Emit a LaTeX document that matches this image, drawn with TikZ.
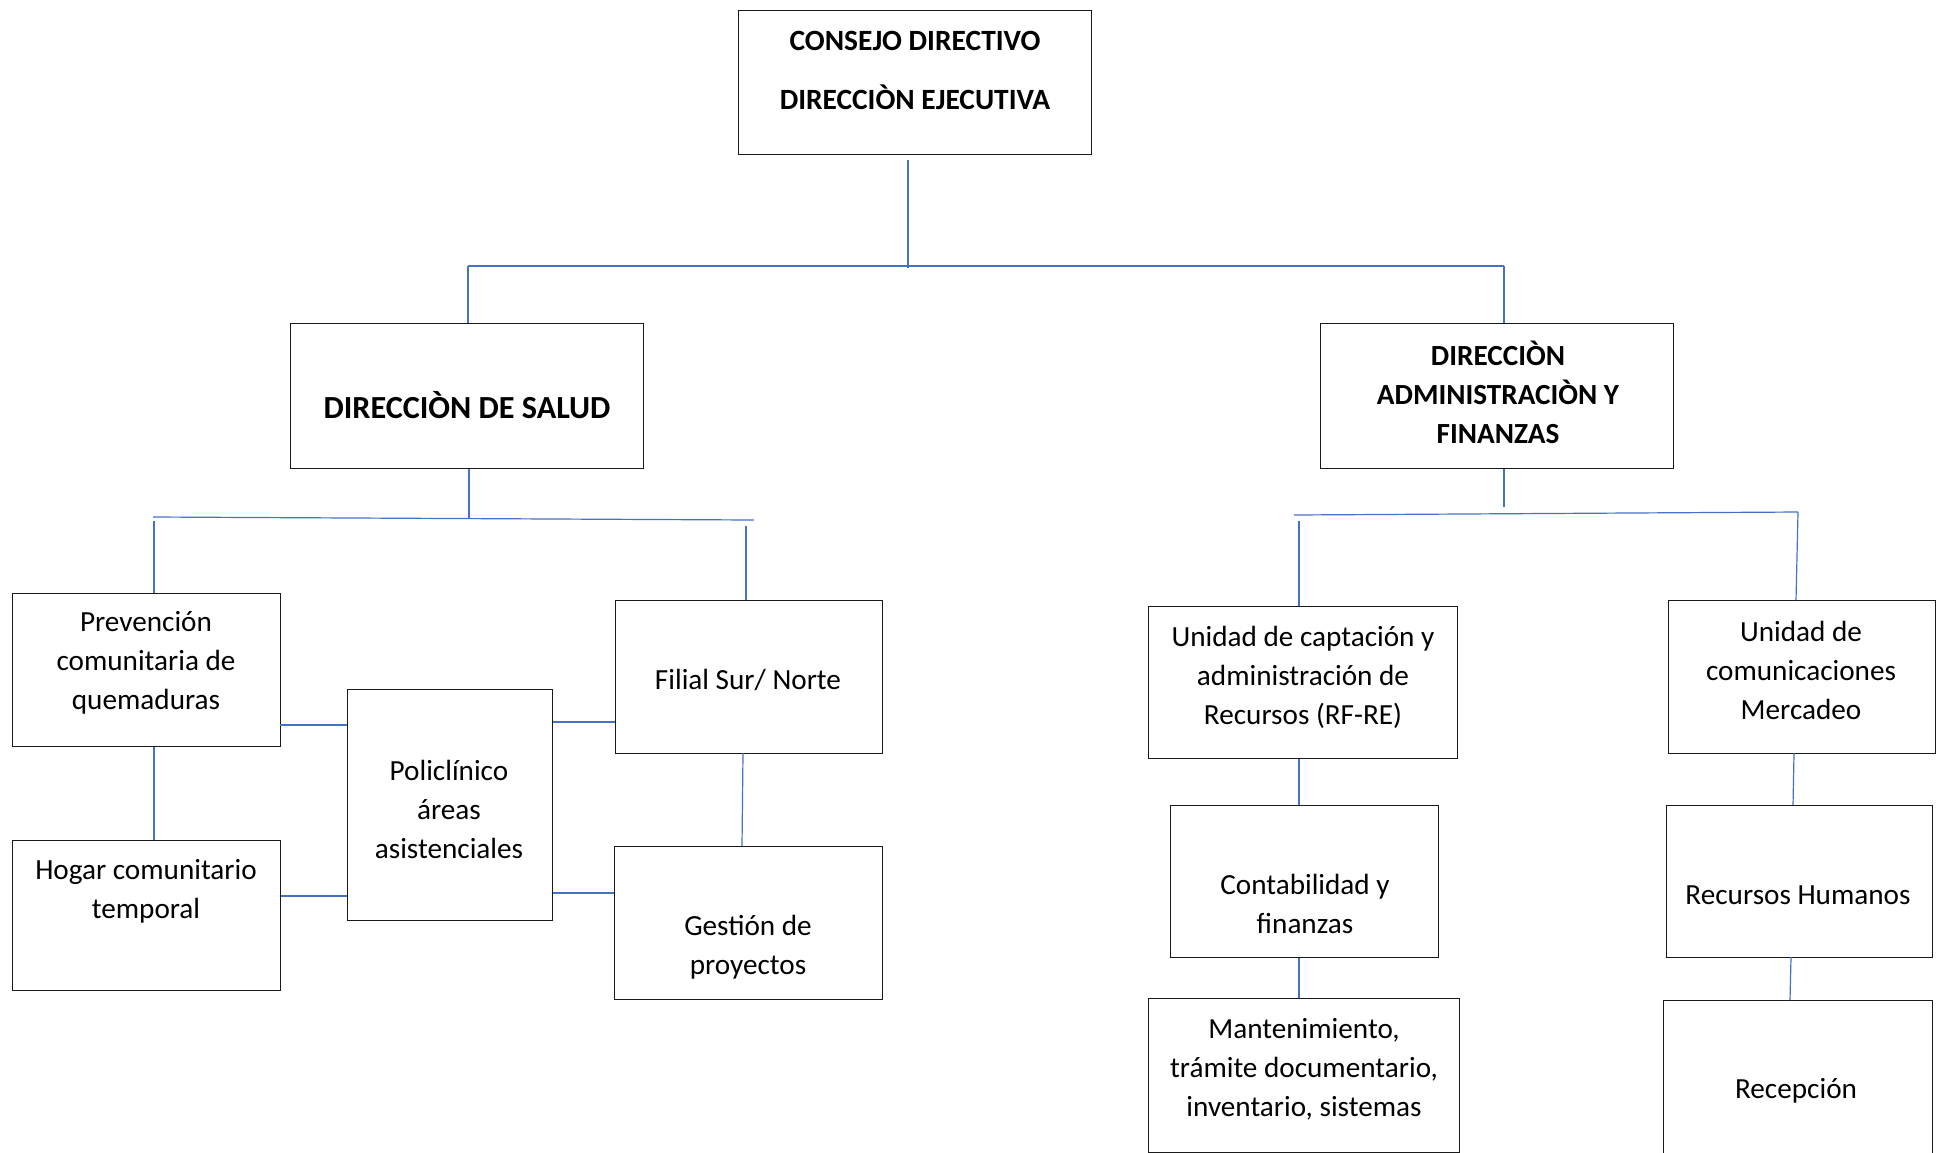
\documentclass[tikz,border=0pt]{standalone}
\usepackage{fontspec}
\setmainfont{Carlito}
\definecolor{conncol}{HTML}{4472C4}
\begin{document}
\begin{tikzpicture}[x=0.5pt,y=-0.5pt,
  box/.style={draw=black!90,line width=0.7pt,rectangle,inner sep=0pt,anchor=north west},
  txt/.style={align=center,inner sep=0pt,font=\fontsize{14.6}{19.5}\selectfont},
  btxt/.style={align=center,inner sep=0pt,font=\fontsize{14.6}{19.5}\selectfont\bfseries},
  conn/.style={draw=conncol,line width=0.6pt}]
\useasboundingbox (0,0) rectangle (1936,1152);
\fill[white] (0,0) rectangle (1936,1152);
% boxes
\node[box,minimum width=176.5pt,minimum height=72pt] (top) at (738,10) {};
\node[box,minimum width=176.5pt,minimum height=72.5pt] (sal) at (290,323) {};
\node[box,minimum width=176.5pt,minimum height=72.5pt] (adm) at (1320,323) {};
\node[box,minimum width=134pt,minimum height=76.5pt] (prev) at (12,593) {};
\node[box,minimum width=134pt,minimum height=75pt] (hog) at (12,840) {};
\node[box,minimum width=102.5pt,minimum height=115.5pt] (pol) at (347,689) {};
\node[box,minimum width=133.5pt,minimum height=76.5pt] (fil) at (615,600) {};
\node[box,minimum width=134pt,minimum height=76.5pt] (ges) at (614,846) {};
\node[box,minimum width=154.5pt,minimum height=76pt] (cap) at (1148,606) {};
\node[box,minimum width=134pt,minimum height=76pt] (con) at (1170,805) {};
\node[box,minimum width=155.5pt,minimum height=77pt] (man) at (1148,998) {};
\node[box,minimum width=133.5pt,minimum height=76.5pt] (com) at (1668,600) {};
\node[box,minimum width=133pt,minimum height=76pt] (rh) at (1666,805) {};
\node[box,minimum width=134.5pt,minimum height=82pt] (rec) at (1663,1000) {};
% texts
\node[txt,font=\fontsize{14.7}{19.5}\selectfont\bfseries] (topt) at (915,70) {CONSEJO DIRECTIVO\\[10pt]DIRECCIÒN EJECUTIVA};
\node[txt,font=\fontsize{16.1}{20}\selectfont\bfseries] (salt) at (467,405) {DIRECCIÒN DE SALUD};
\node[btxt] (admt) at (1498,392) {DIRECCIÒN\\ADMINISTRACIÒN Y\\FINANZAS};
\node[txt] (prevt) at (146,663) {Prevención\\comunitaria de\\quemaduras};
\node[txt] (hogt) at (146,891) {Hogar comunitario\\temporal};
\node[txt] (polt) at (449,809) {Policlínico\\áreas\\asistenciales};
\node[txt] (filt) at (748,680) {Filial Sur/ Norte};
\node[txt] (gest) at (748,947) {Gestión de\\proyectos};
\node[txt] (capt) at (1303,677) {Unidad de captación y\\administración de\\Recursos (RF-RE)};
\node[txt] (cont) at (1305,904) {Contabilidad y\\finanzas};
\node[txt] (mant) at (1304,1069) {Mantenimiento,\\trámite documentario,\\inventario, sistemas};
\node[txt] (comt) at (1801,670) {Unidad de\\comunicaciones\\Mercadeo};
\node[txt] (rht) at (1798,895) {Recursos Humanos};
\node[txt] (rect) at (1796,1091) {Recepción};
% bus coordinates
\coordinate (ts) at (908,160);
\coordinate (tb) at (908,268);
\coordinate (busL) at (468,266);
\coordinate (busR) at (1504,266);
\coordinate (sb) at (469,518);
\coordinate (lbusL) at (153,517);
\coordinate (lbusR) at (754,520);
\coordinate (lpd) at (154,521);
\coordinate (lfd) at (746,526);
\coordinate (ab) at (1504,507);
\coordinate (rbusL) at (1294,515);
\coordinate (rbusR) at (1798,512);
\coordinate (rcd) at (1299,521);
% connectors
\draw[conn] (ts) -- (tb);
\draw[conn] (busL) -- (busR);
\draw[conn] (busL) -- (busL |- sal.north);
\draw[conn] (busR) -- (busR |- adm.north);
\draw[conn] (sal.south -| sb) -- (sb);
\draw[conn] (lbusL) -- (lbusR);
\draw[conn] (lpd) -- (lpd |- prev.north);
\draw[conn] (lfd) -- (lfd |- fil.north);
\draw[conn] (adm.south -| ab) -- (ab);
\draw[conn] (rbusL) -- (rbusR);
\draw[conn] (rcd) -- (rcd |- cap.north);
\draw[conn] (rbusR) -- (1796,600);
\draw[conn] (prev.south -| lpd) -- (hog.north -| lpd);
\draw[conn] (280,725) -- (pol.west |- 0,725);
\draw[conn] (hog.east |- 0,896) -- (pol.west |- 0,896);
\draw[conn] (pol.east |- 0,722) -- (fil.west |- 0,722);
\draw[conn] (pol.east |- 0,893) -- (ges.west |- 0,893);
\draw[conn] (743,753) -- (742,846);
\draw[conn] (cap.south -| rcd) -- (con.north -| rcd);
\draw[conn] (con.south -| rcd) -- (man.north -| rcd);
\draw[conn] (1794,753) -- (1793,805);
\draw[conn] (1791,957) -- (1790,1000);
\end{tikzpicture}
\end{document}
